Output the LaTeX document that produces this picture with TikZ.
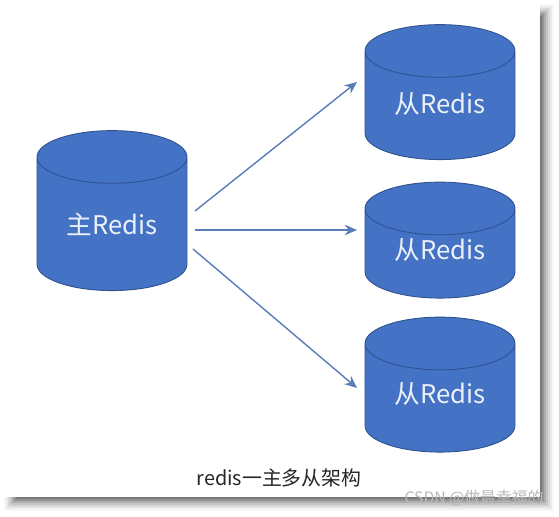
\documentclass[tikz,border=0pt]{standalone}
\usepackage{fontspec}
\setmainfont{Noto Sans CJK SC}
\usetikzlibrary{shapes.geometric,arrows.meta}
\definecolor{dbblue}{RGB}{68,114,196}
\definecolor{dbline}{RGB}{47,82,143}
\definecolor{arrowblue}{RGB}{90,124,184}
\newcommand{\raised}[2]{\raisebox{#1}[\height][\depth]{#2}}
\tikzset{
 db/.style={cylinder,shape border rotate=90,aspect=0.58,draw=dbline,fill=dbblue,line width=0.5pt,
  minimum width=3cm,text=white!90!dbblue,font=\fontsize{14.6}{16}\selectfont,inner sep=0pt},
 link/.style={draw=arrowblue,line width=0.8pt,-{Stealth[length=7pt,width=6pt]}},
 caption/.style={font=\fontsize{11.3}{13}\selectfont,text=black!85,inner sep=0pt},
 wmark/.style={font=\fontsize{9}{11}\selectfont,text=black!28,inner sep=0pt}
}
\begin{document}
\begin{tikzpicture}[x=0.02cm,y=-0.02cm]
 \useasboundingbox (0,0) rectangle (559,517);
 \fill[white](0,0) rectangle (559,517);
 \foreach \d/\o in {14/0.03,12/0.05,10/0.07,8/0.09,6/0.12,4/0.15,2/0.18}
  \fill[black,opacity=\o](18-\d,18-\d) rectangle (540+\d,497+\d);
 \fill[white](0,0) rectangle (540,497);
 \node[db,minimum height=3.2cm] (master) at (112,224) {主Redis};
 \node[db,minimum height=2.7cm] (slavea) at (440,105.5) {\raised{0.03cm}{从Redis}};
 \node[db,minimum height=2.32cm] (slaveb) at (440,253.5) {\raised{0.07cm}{从Redis}};
 \node[db,minimum height=2.7cm] (slavec) at (440,398) {\raised{0.08cm}{从Redis}};
 \coordinate (outa) at (195,211);
 \coordinate (outb) at (195,230);
 \coordinate (outc) at (193,249);
 \coordinate (ina) at (357,82);
 \coordinate (inb) at (357,230);
 \coordinate (inc) at (357,388);
 \draw[link](outa)--(ina);
 \draw[link](outb)--(inb);
 \draw[link](outc)--(inc);
 \node[caption] (title) at (279,478) {redis一主多从架构};
 \node[wmark] (csdn) at (474,498) {CSDN @做最幸福的};
\end{tikzpicture}
\end{document}
